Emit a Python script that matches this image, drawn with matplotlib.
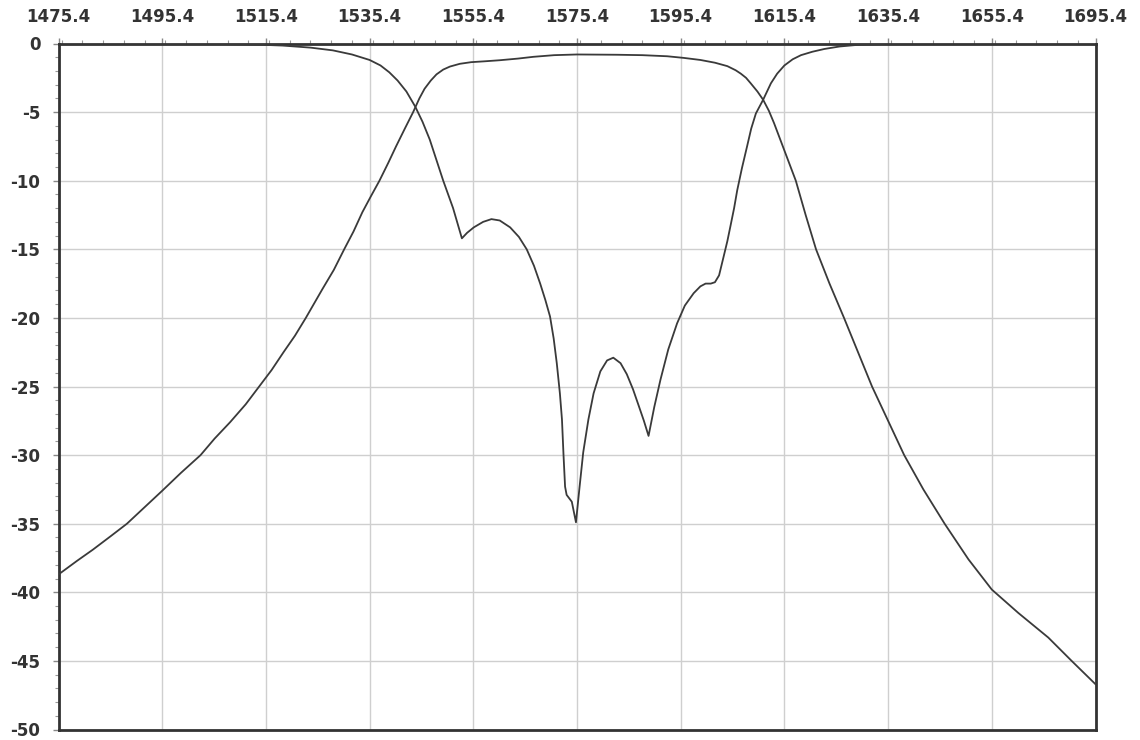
import matplotlib
matplotlib.use("Agg")
import matplotlib.pyplot as plt
from matplotlib.ticker import MultipleLocator, FixedLocator

# Frequency axis (MHz) and tick labels as printed on the chart
x_ticks = [1475.4, 1495.4, 1515.4, 1535.4, 1555.4, 1575.4, 1595.4, 1615.4, 1635.4, 1655.4, 1675.4]
x_tick_labels = ["1475.4", "1495.4", "1515.4", "1535.4", "1555.4", "1575.4",
                 "1595.4", "1615.4", "1635.4", "1655.4", "1695.4"]
y_ticks = [0, -5, -10, -15, -20, -25, -30, -35, -40, -45, -50]
y_tick_labels = ["0", "-5", "-10", "-15", "-20", "-25", "-30", "-35", "-40", "-45", "-50"]

# Transmission curve (S21)
s21_freq = [1475.4, 1479.0, 1482.0, 1485.5, 1488.6, 1492.0, 1495.4, 1499.0, 1502.8,
            1505.5, 1508.5, 1511.5, 1514.1, 1516.5, 1518.8, 1521.0, 1523.1, 1526.3,
            1528.5, 1530.5, 1532.3, 1534.0, 1535.7, 1537.3, 1539.0, 1540.5, 1542.2,
            1543.8, 1545.0, 1546.0, 1547.2, 1548.3, 1549.6, 1550.9, 1552.8, 1555.0,
            1557.5, 1560.5, 1564.0, 1567.0, 1571.0, 1575.4, 1583.1, 1588.0, 1592.8,
            1596.0, 1599.2, 1602.0, 1604.4, 1606.0, 1607.0, 1608.0, 1608.9, 1610.2,
            1611.3, 1612.4, 1613.4, 1614.4, 1615.4, 1616.5, 1617.6, 1619.5, 1621.5,
            1624.1, 1626.9, 1629.6, 1632.3, 1635.4, 1638.5, 1642.2, 1646.3, 1650.9,
            1655.4, 1660.5, 1666.3, 1670.8, 1675.4]
s21_db = [-38.7, -37.7, -36.9, -35.9, -35.0, -33.8, -32.6, -31.3, -30.0,
          -28.8, -27.6, -26.3, -25.0, -23.8, -22.5, -21.3, -20.0, -17.9,
          -16.5, -15.0, -13.7, -12.3, -11.1, -10.0, -8.7, -7.5, -6.2,
          -5.0, -4.0, -3.3, -2.7, -2.25, -1.9, -1.68, -1.48, -1.36,
          -1.3, -1.22, -1.1, -0.97, -0.85, -0.8, -0.82, -0.85, -0.93,
          -1.05, -1.2, -1.4, -1.65, -1.95, -2.2, -2.5, -2.9, -3.5,
          -4.1, -4.9, -5.8, -6.8, -7.8, -8.9, -10.0, -12.5, -15.0,
          -17.5, -20.0, -22.5, -25.0, -27.5, -30.0, -32.5, -35.0, -37.6,
          -39.8, -41.5, -43.3, -45.0, -46.7]

# Reflection curve (S11)
s11_freq = [1475.4, 1505.0, 1515.0, 1518.6, 1524.0, 1528.3, 1532.0, 1535.4, 1537.5,
            1539.2, 1540.8, 1542.5, 1544.2, 1545.6, 1547.0, 1548.3, 1549.6, 1551.5,
            1553.2, 1554.2, 1555.5, 1557.3, 1558.9, 1560.5, 1562.5, 1564.2, 1565.7,
            1567.1, 1568.3, 1569.3, 1570.2, 1570.9, 1571.5, 1572.1, 1572.5, 1572.8,
            1573.1, 1573.4, 1574.4, 1575.2, 1575.9, 1576.6, 1577.6, 1578.6, 1579.9,
            1581.2, 1582.4, 1583.8, 1585.0, 1586.2, 1587.3, 1588.3, 1589.2, 1590.3,
            1591.5, 1593.0, 1594.7, 1596.2, 1597.9, 1599.2, 1600.2, 1601.2, 1602.0,
            1602.8, 1603.7, 1604.4, 1605.0, 1605.7, 1606.3, 1607.2, 1608.2, 1609.0,
            1609.9, 1611.3, 1612.8, 1614.0, 1615.4, 1617.0, 1618.6, 1620.8, 1623.1,
            1626.0, 1629.5, 1635.0, 1640.0, 1675.4]
s11_db = [0.0, -0.02, -0.1, -0.15, -0.3, -0.5, -0.8, -1.2, -1.6,
          -2.1, -2.7, -3.5, -4.6, -5.7, -7.0, -8.5, -10.0, -12.0,
          -14.2, -13.8, -13.4, -13.0, -12.8, -12.9, -13.4, -14.1, -15.0,
          -16.2, -17.5, -18.7, -19.9, -21.5, -23.3, -25.5, -27.4, -30.0,
          -32.3, -32.9, -33.4, -34.9, -32.3, -29.8, -27.4, -25.5, -23.9,
          -23.1, -22.9, -23.3, -24.1, -25.2, -26.4, -27.5, -28.6, -26.5,
          -24.5, -22.3, -20.4, -19.1, -18.2, -17.7, -17.5, -17.5, -17.4,
          -16.9, -15.5, -14.4, -13.3, -12.0, -10.7, -9.1, -7.5, -6.2,
          -5.1, -4.1, -2.9, -2.2, -1.6, -1.15, -0.85, -0.6, -0.4,
          -0.22, -0.1, -0.03, 0.0, 0.0]

plt.rcParams['font.family'] = ['DejaVu Sans']

fig = plt.figure(figsize=(11.4, 7.4), dpi=100)
ax = fig.add_axes([58.5 / 1140, 1 - 729.5 / 740, 1037 / 1140, 686 / 740])

line_color = "#3a3a3a"
ax.plot(s21_freq, s21_db, color=line_color, lw=1.3, zorder=3, solid_joinstyle='round')
ax.plot(s11_freq, s11_db, color=line_color, lw=1.3, zorder=3, solid_joinstyle='round')

ax.set_xlim(1475.4, 1675.4)
ax.set_ylim(-50, 0)

ax.xaxis.set_major_locator(FixedLocator(x_ticks))
ax.set_xticklabels(x_tick_labels)
ax.yaxis.set_major_locator(FixedLocator(y_ticks))
ax.set_yticklabels(y_tick_labels)
ax.xaxis.set_minor_locator(MultipleLocator(4))
ax.yaxis.set_minor_locator(MultipleLocator(1))

ax.xaxis.tick_top()
ax.grid(True, which='major', color="#cfcfcf", lw=1.0, zorder=0)

ax.tick_params(axis='x', which='major', top=True, bottom=False, length=4, width=1,
               color="#888888", pad=8.5, labelsize=12, labelcolor="#333333")
ax.tick_params(axis='x', which='minor', top=True, bottom=False, length=3, width=0.8,
               color="#999999")
ax.tick_params(axis='y', which='major', left=True, length=4, width=1,
               color="#888888", pad=9, labelsize=12, labelcolor="#333333")
ax.tick_params(axis='y', which='minor', left=True, length=3, width=0.8,
               color="#999999")
for lab in ax.get_xticklabels() + ax.get_yticklabels():
    lab.set_fontweight('bold')

for sp in ax.spines.values():
    sp.set_color("#333333")
    sp.set_linewidth(2.0)

fig.savefig("out.png", dpi=100)
